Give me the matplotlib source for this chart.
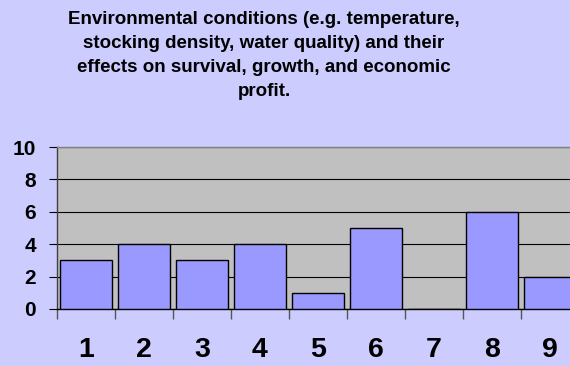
import matplotlib
matplotlib.use("Agg")
import matplotlib.pyplot as plt
import numpy as np

categories = ["1", "2", "3", "4", "5", "6", "7", "8", "9"]
values = [3, 4, 3, 4, 1, 5, 0, 6, 2]
y_ticks = [0, 2, 4, 6, 8, 10]
title = ("Environmental conditions (e.g. temperature,\n"
         "stocking density, water quality) and their\n"
         "effects on survival, growth, and economic\n"
         "profit.")

plt.rcParams["font.family"] = ["Liberation Sans", "DejaVu Sans"]

fig = plt.figure(figsize=(5.7, 3.66), dpi=100, facecolor="#CCCCFF")
ax = fig.add_axes([57 / 570, 1 - 309 / 366, 522 / 570, 162 / 366])
ax.set_facecolor("#C0C0C0")

x = np.arange(len(categories))
ax.bar(x, values, width=0.9, color="#9999FF", edgecolor="black", linewidth=1.0, zorder=3)

ax.set_xlim(-0.5, len(categories) - 0.5)
ax.set_ylim(0, 10)
ax.set_yticks(y_ticks)
ax.set_yticklabels([str(v) for v in y_ticks], fontsize=15, fontweight="bold")
ax.yaxis.grid(True, color="black", linewidth=0.8, zorder=1)
ax.set_axisbelow(True)

ax.set_xticks(x)
ax.set_xticklabels(categories, fontsize=20.5, fontweight="bold")
ax.tick_params(axis="x", which="major", length=0, pad=20.5)
ax.set_xticks(np.arange(-0.5, len(categories), 1.0), minor=True)
ax.tick_params(axis="x", which="minor", length=7, width=1.0, color="#555555", direction="out")
ax.tick_params(axis="y", length=6, width=0.8, color="black", direction="out", pad=9)

for side in ("top", "right"):
    ax.spines[side].set_color("#808080")
    ax.spines[side].set_linewidth(1.0)
ax.spines["left"].set_color("#404040")
ax.spines["bottom"].set_color("black")
ax.spines["left"].set_linewidth(1.0)
ax.spines["bottom"].set_linewidth(1.0)

fig.text(264 / 570, 1 - 11 / 366, title, ha="center", va="top", fontsize=13.5,
         fontweight="bold", linespacing=1.53)

fig.savefig("out.png", dpi=100, facecolor=fig.get_facecolor())
